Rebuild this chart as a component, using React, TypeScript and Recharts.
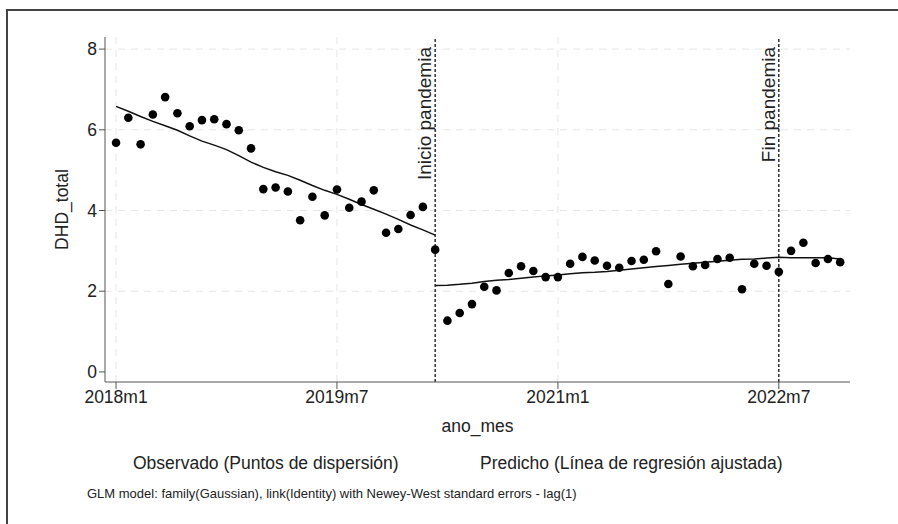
import { CartesianGrid, ComposedChart, Line, ReferenceLine, Scatter, XAxis, YAxis } from 'recharts';

// month index 0 = 2018m1 ... 59 = 2022m12
const tickPos = [0, 18, 36, 54];
const tickLabels = ['2018m1', '2019m7', '2021m1', '2022m7'];

const observed = [
  5.68, 6.3, 5.64, 6.38, 6.81, 6.41, 6.09, 6.24, 6.26, 6.14, 5.99, 5.54,
  4.53, 4.57, 4.47, 3.76, 4.34, 3.88, 4.52, 4.07, 4.22, 4.5, 3.45, 3.54,
  3.89, 4.09, 3.03, 1.27, 1.46, 1.68, 2.11, 2.02, 2.45, 2.62, 2.5, 2.35,
  2.35, 2.68, 2.85, 2.76, 2.63, 2.58, 2.75, 2.78, 2.99, 2.18, 2.86, 2.62,
  2.65, 2.8, 2.83, 2.05, 2.68, 2.63, 2.48, 3.0, 3.2, 2.7, 2.8, 2.72,
];

// fitted values before the pandemic start (months 0..26)
const fittedPre = [
  6.58, 6.46, 6.33, 6.21, 6.1, 5.99, 5.85, 5.72, 5.62, 5.51, 5.36, 5.2,
  5.07, 4.96, 4.87, 4.75, 4.62, 4.5, 4.4, 4.28, 4.15, 4.03, 3.91, 3.78,
  3.64, 3.52, 3.39,
];
// fitted values from the pandemic start (months 26..59)
const fittedPost = [
  2.14, 2.15, 2.17, 2.2, 2.24, 2.27, 2.29, 2.32, 2.35, 2.38, 2.4, 2.43,
  2.46, 2.47, 2.49, 2.52, 2.55, 2.58, 2.61, 2.64, 2.67, 2.69, 2.72, 2.74,
  2.77, 2.79, 2.8, 2.82, 2.84, 2.83, 2.83, 2.83, 2.83, 2.8,
];

const inicio = 26; // 2020m3
const fin = 54; // 2022m7

const scatterData = observed.map((v, i) => ({ t: i, obs: v }));
const preData = fittedPre.map((v, i) => ({ t: i, fit: v }));
const postData = fittedPost.map((v, i) => ({ t: i + inicio, fit: v }));

const FONT = '"Liberation Sans", Arial, sans-serif';

const vLabel = (text: string) => (props: any) => {
  const vb = props.viewBox || {};
  const x = vb.x - 4;
  const y = vb.y + 10;
  return (
    <text
      x={x}
      y={y}
      transform={`rotate(-90 ${x} ${y})`}
      textAnchor='end'
      fontFamily={FONT}
      fontSize={19}
      fill='#222'
    >
      {text}
    </text>
  );
};

const yLabel = (props: any) => {
  const vb = props.viewBox || { x: 0, y: 37, width: 105, height: 345 };
  const x = 62;
  const y = vb.y + vb.height / 2;
  return (
    <text
      x={x}
      y={y}
      transform={`rotate(-90 ${x} ${y})`}
      textAnchor='middle'
      dominantBaseline='central'
      fontFamily={FONT}
      fontSize={17.5}
      fill='#222'
    >
      DHD_total
    </text>
  );
};

export default function App() {
  return (
    <div style={{ position: 'absolute', left: 0, top: 0, width: 898, height: 524, background: '#fff', overflow: 'hidden', fontFamily: FONT }}>
      <div style={{ position: 'absolute', left: 6, top: 9, width: 900, height: 530, borderLeft: '2px solid #444', borderTop: '2px solid #444' }} />
      <ComposedChart
        width={898}
        height={524}
        margin={{ top: 37, right: 48, left: 0, bottom: 92 }}
        style={{ position: 'absolute', left: 0, top: 0 }}
      >
        <CartesianGrid
          stroke='#e6e6e6'
          strokeDasharray='7 6'
          horizontalValues={[2, 4, 6, 8]}
          verticalValues={[0, 18, 36]}
        />
        <XAxis
          type='number'
          dataKey='t'
          domain={[-0.9, 59.8]}
          allowDataOverflow
          ticks={tickPos}
          tickFormatter={(v: number) => tickLabels[tickPos.indexOf(v)]}
          tick={{ fontSize: 17.5, fill: '#222', fontFamily: FONT }}
          tickSize={7}
          stroke='#555'
          height={50}
          label={{ value: 'ano_mes', position: 'insideBottom', offset: 0, fontSize: 17.5, fill: '#222', fontFamily: FONT }}
        />
        <YAxis
          type='number'
          domain={[-0.25, 8.3]}
          allowDataOverflow
          ticks={[0, 2, 4, 6, 8]}
          tick={{ fontSize: 17.5, fill: '#222', fontFamily: FONT }}
          tickSize={6}
          stroke='#555'
          width={105}
          label={{ content: yLabel }}
        />
        <ReferenceLine x={inicio} stroke='#111' strokeWidth={1.3} strokeDasharray='3 2' label={{ content: vLabel('Inicio pandemia') }} />
        <ReferenceLine x={fin} stroke='#111' strokeWidth={1.3} strokeDasharray='3 2' label={{ content: vLabel('Fin pandemia') }} />
        <Line data={preData} dataKey='fit' type='linear' stroke='#111' strokeWidth={1.5} dot={false} isAnimationActive={false} />
        <Line data={postData} dataKey='fit' type='linear' stroke='#111' strokeWidth={1.5} dot={false} isAnimationActive={false} />
        <Scatter
          data={scatterData}
          dataKey='obs'
          isAnimationActive={false}
          shape={(p: any) => <circle cx={p.cx} cy={p.cy} r={4.3} fill='#000' />}
        />
      </ComposedChart>
      <div style={{ position: 'absolute', left: 0, top: 453, width: 898, height: 24, fontSize: 17.5, color: '#222' }}>
        <span style={{ position: 'absolute', left: 133, whiteSpace: 'nowrap' }}>Observado (Puntos de dispersión)</span>
        <span style={{ position: 'absolute', left: 480, whiteSpace: 'nowrap' }}>Predicho (Línea de regresión ajustada)</span>
      </div>
      <div style={{ position: 'absolute', left: 87, top: 486, fontSize: 13, color: '#222', whiteSpace: 'nowrap' }}>
        GLM model: family(Gaussian), link(Identity) with Newey-West standard errors - lag(1)
      </div>
    </div>
  );
}
